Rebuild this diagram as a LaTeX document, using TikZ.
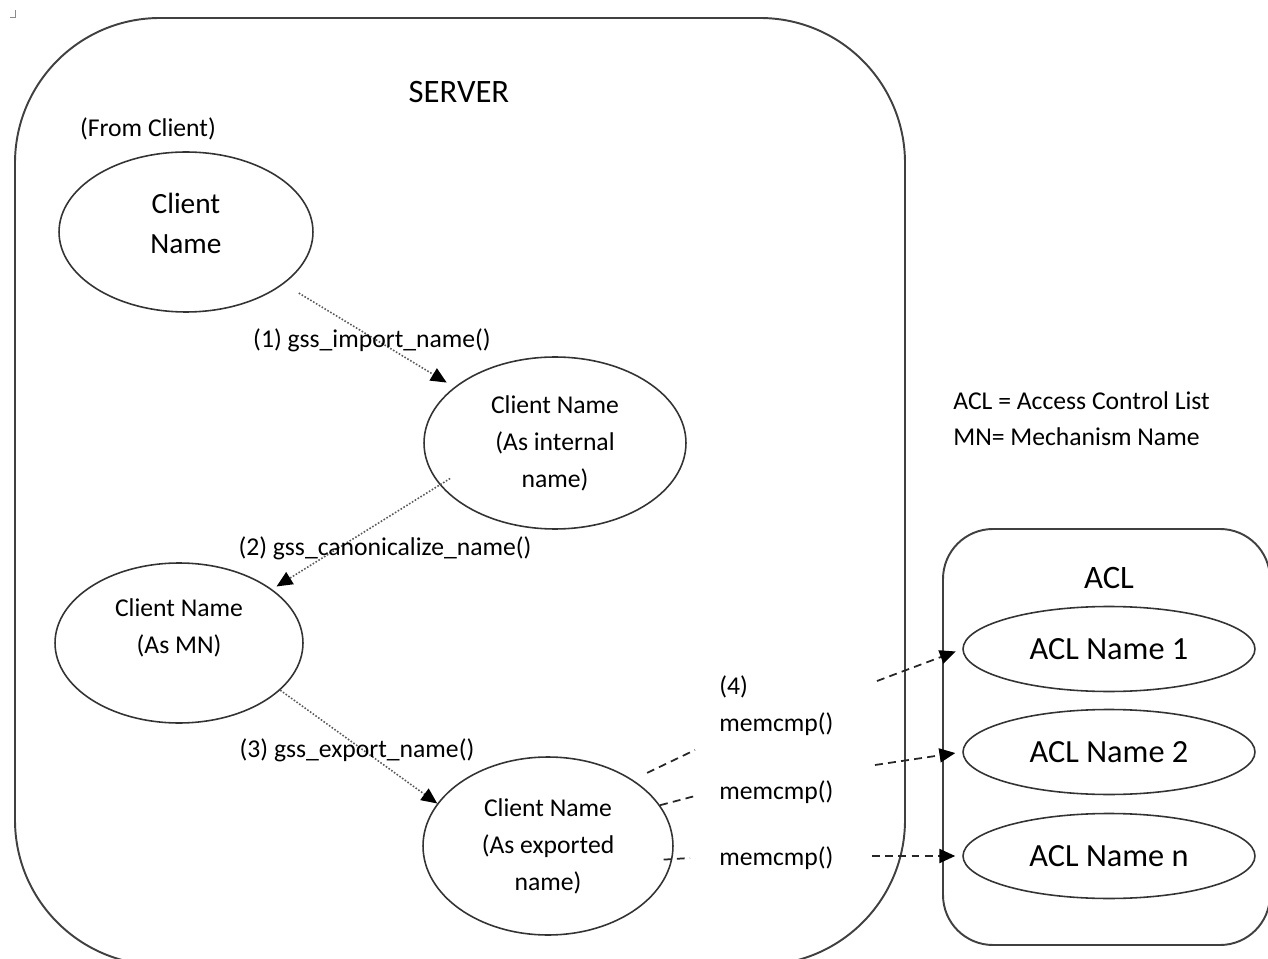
\documentclass[tikz,border=0pt]{standalone}
\usepackage{fontspec}
\setmainfont{Carlito}
\usetikzlibrary{shapes.geometric, arrows.meta}

\begin{document}
\begin{tikzpicture}[x=0.02cm, y=-0.02cm, % one unit = one pixel of the sketch
    namebubble/.style={ellipse, draw=black!80, line width=0.9pt, inner sep=0pt, align=center, text=black, font=\fontsize{14.6}{21}\selectfont},
    aclbubble/.style={namebubble, minimum width=5.84cm, minimum height=1.7cm, font=\fontsize{18.4}{22}\selectfont},
    txt/.style={inner sep=0pt, text=black, font=\fontsize{14.6}{21}\selectfont},
    bigtxt/.style={inner sep=0pt, text=black, font=\fontsize{18.6}{22}\selectfont},
    callarrow/.style={-{Triangle[length=9pt, width=8pt, color=black]}, densely dotted, line width=0.9pt, black!65},
    cmpline/.style={dash pattern=on 4.5pt off 3pt, line width=1pt, black!85},
    cmparrow/.style={cmpline, -{Triangle[length=9pt, width=8pt, color=black]}}
]

    % Page frame
    \useasboundingbox (0,0) rectangle (1268,959);

    % Crop mark (top left)
    \draw[black!45, line width=0.5pt] (15,10) -- (15,17) -- (10,17);

    % Server and ACL boxes
    \draw[black!75, line width=1.1pt, rounded corners=2.9cm] (15,18) rectangle (905,965);
    \draw[black!75, line width=1.1pt, rounded corners=1cm] (943,529) rectangle (1270,945);

    % Titles
    \node[bigtxt] (server) at (459,92) {SERVER};
    \node[txt] (from) at (148,129) {(From Client)};
    \node[bigtxt] (acltitle) at (1109,578) {ACL};

    % Legend
    \node[txt, anchor=west] (legacl) at (953,401) {ACL = Access Control List};
    \node[txt, anchor=west] (legmn) at (953,437) {MN= Mechanism Name};

    % Client name in its four forms
    \node[namebubble, minimum width=5.08cm, minimum height=3.2cm, font=\fontsize{16.7}{22.7}\selectfont, text depth=10pt] (client) at (186,232) {Client\\Name};
    \node[namebubble, minimum width=5.24cm, minimum height=3.44cm] (internal) at (555,443) {Client Name\\(As internal\\name)};
    \node[namebubble, minimum width=4.96cm, minimum height=3.2cm, text depth=19pt] (mn) at (179,643) {Client Name\\(As MN)};
    \node[namebubble, minimum width=5cm, minimum height=3.56cm] (exported) at (548,846) {Client Name\\(As exported\\name)};

    % ACL entries
    \node[aclbubble] (acla) at (1109,649) {ACL Name 1};
    \node[aclbubble] (aclb) at (1109,752) {ACL Name 2};
    \node[aclbubble] (acln) at (1109,856) {ACL Name n};

    % GSS calls between the forms
    \draw[callarrow, shorten <=10pt, shorten >=5pt] (client.-28) -- (internal.151); % import
    \draw[callarrow, shorten <=-7pt, shorten >=3pt] (internal.200) -- (mn.30); % canonicalize
    \draw[callarrow] (mn.-25) -- (exported.159); % export

    \node[txt] (call1) at (372,340) {(1) gss\_import\_name()};
    \node[txt] (call2) at (385,548) {(2) gss\_canonicalize\_name()};
    \node[txt] (call3) at (357,750) {(3) gss\_export\_name()};

    % memcmp against each ACL entry
    \coordinate (m1a) at (695,750);
    \coordinate (m1b) at (877,681);
    \coordinate (m2a) at (695,796);
    \coordinate (m2b) at (875,765);
    \coordinate (m3a) at (690,858);
    \coordinate (m3b) at (872,856);

    \draw[cmpline, shorten <=9pt] (exported.38) -- (m1a);
    \draw[cmparrow, shorten >=4pt] (m1b) -- (acla.west);
    \draw[cmpline] (exported.20) -- (m2a);
    \draw[cmparrow, shorten >=4pt] (m2b) -- (aclb.west);
    \draw[cmpline, shorten <=-5pt] (exported.-6) -- (m3a);
    \draw[cmparrow, shorten >=4pt] (m3b) -- (acln.west);

    \node[txt, anchor=west, align=left] (cmp1) at (719,706) {(4)\\memcmp()};
    \node[txt, anchor=west] (cmp2) at (719,792) {memcmp()};
    \node[txt, anchor=west] (cmp3) at (719,858) {memcmp()};

\end{tikzpicture}
\end{document}
